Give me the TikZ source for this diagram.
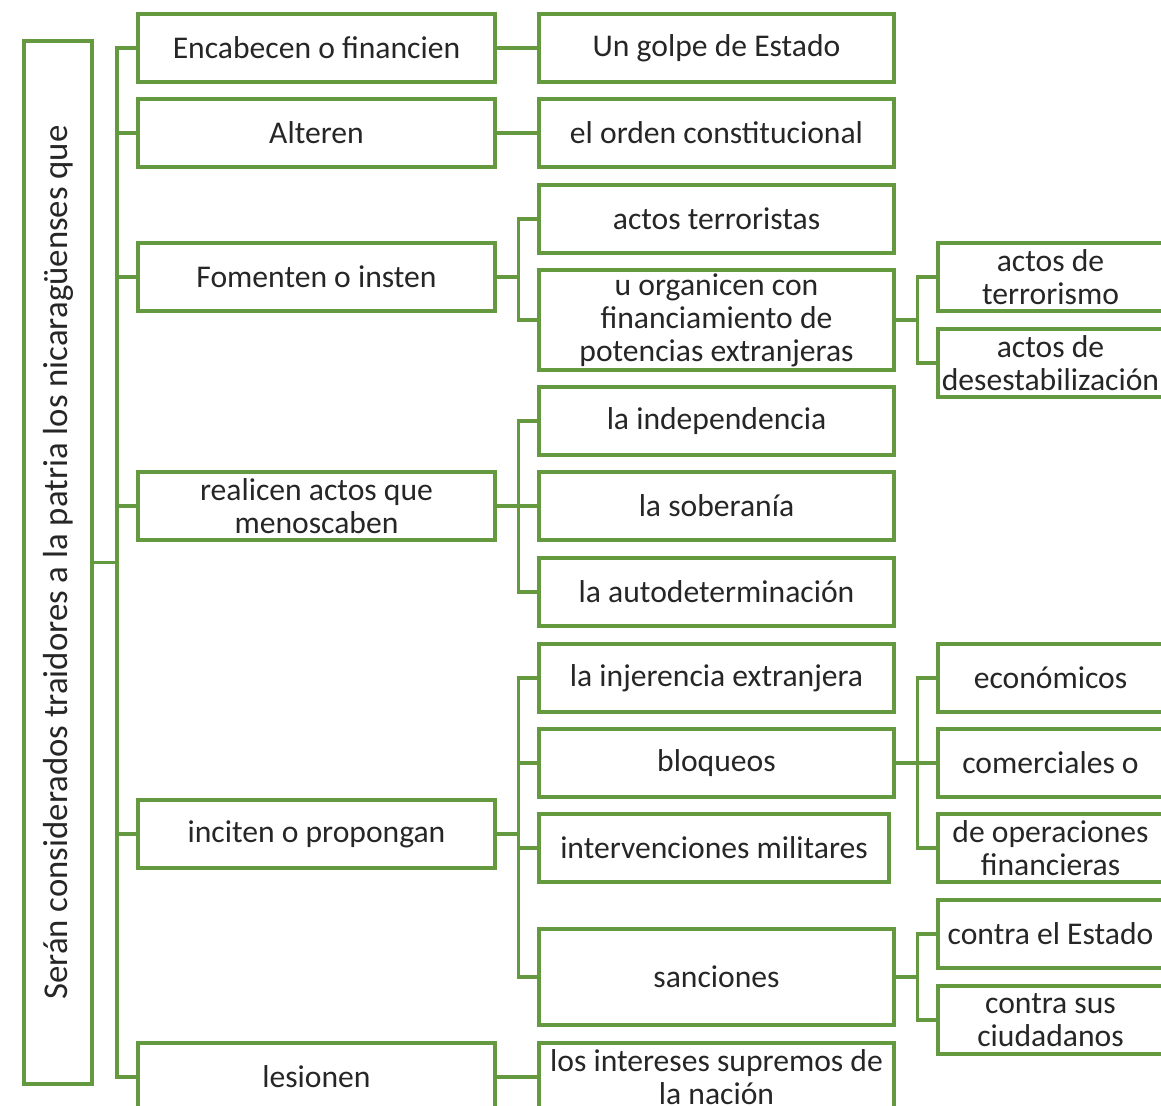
\documentclass[tikz,border=0pt]{standalone}
\usepackage{fontspec}
\setmainfont{Carlito}
\definecolor{grn}{RGB}{100,153,64}
\definecolor{txt}{RGB}{38,38,38}

\begin{document}
\begin{tikzpicture}[x=0.02cm,y=-0.02cm,line width=2pt,
      every node/.style={draw=grn,text=txt,align=center,inner sep=1pt,
        font=\fontsize{18}{18.8}\selectfont,minimum height=1.36cm},
      lvla/.style={minimum width=7.14cm},
      lvlb/.style={minimum width=7.1cm},
      lvlc/.style={minimum width=4.5cm},
      link/.style={draw=grn,line width=1.8pt}]
  \useasboundingbox(0,0)rectangle(1161,1106);
  \clip(0,0)rectangle(1161,1106);
  \node[rotate=90,minimum width=20.86cm,font=\fontsize{19.8}{20}\selectfont](main)
    at(58,562.5){Serán considerados traidores a la patria los nicaragüenses que};
  \coordinate(t)at(117,562.5);
  \node[lvla](enc)at(316.5,48){Encabecen o financien};
  \node[lvla](alt)at(316.5,133){Alteren};
  \node[lvla](fom)at(316.5,277){Fomenten o insten};
  \node[lvla](rea)at(316.5,506){realicen actos que\\menoscaben};
  \node[lvla](inc)at(316.5,834){inciten o propongan};
  \node[lvla](les)at(316.5,1077){lesionen};
  \node[lvlb](gol)at(716.5,48){Un golpe de Estado};
  \node[lvlb](ord)at(716.5,133){el orden constitucional};
  \node[lvlb](ter)at(716.5,219){actos terroristas};
  \node[lvlb,minimum height=2cm](org)at(716.5,320)
    {u organicen con\\financiamiento de\\potencias extranjeras};
  \node[lvlb](ind)at(716.5,421){la independencia};
  \node[lvlb](sob)at(716.5,506){la soberanía};
  \node[lvlb](aut)at(716.5,592){la autodeterminación};
  \node[lvlb](inj)at(716.5,678){la injerencia extranjera};
  \node[lvlb](blo)at(716.5,763){bloqueos};
  \node[minimum width=7cm](mil)at(714,848){intervenciones militares};
  \node[lvlb,minimum height=1.92cm](san)at(716.5,977){sanciones};
  \node[lvlb](nac)at(716.5,1077){los intereses supremos de\\la nación};
  \node[lvlc](trr)at(1050.5,277){actos de\\terrorismo};
  \node[lvlc](des)at(1050.5,363){actos de\\desestabilización};
  \node[lvlc](eco)at(1050.5,678){económicos};
  \node[lvlc](com)at(1050.5,763){comerciales o};
  \node[lvlc](fin)at(1050.5,848){de operaciones\\financieras};
  \node[lvlc](est)at(1050.5,934){contra el Estado};
  \node[lvlc](ciu)at(1050.5,1020){contra sus\\ciudadanos};
  \draw[link](main)--(t);
  \foreach \n in {enc,alt,fom,rea,inc,les}\draw[link](t)|-(\n.west);
  \draw[link](enc)--(gol);
  \draw[link](alt)--(ord);
  \draw[link](les)--(nac);
  \foreach \n in {ter,org}\draw[link](fom.east)--++(22,0)|-(\n.west);
  \foreach \n in {ind,sob,aut}\draw[link](rea.east)--++(22,0)|-(\n.west);
  \foreach \n in {inj,blo,mil,san}\draw[link](inc.east)--++(22,0)|-(\n.west);
  \foreach \n in {trr,des}\draw[link](org.east)--++(22,0)|-(\n.west);
  \foreach \n in {eco,com,fin}\draw[link](blo.east)--++(22,0)|-(\n.west);
  \foreach \n in {est,ciu}\draw[link](san.east)--++(22,0)|-(\n.west);
\end{tikzpicture}
\end{document}
